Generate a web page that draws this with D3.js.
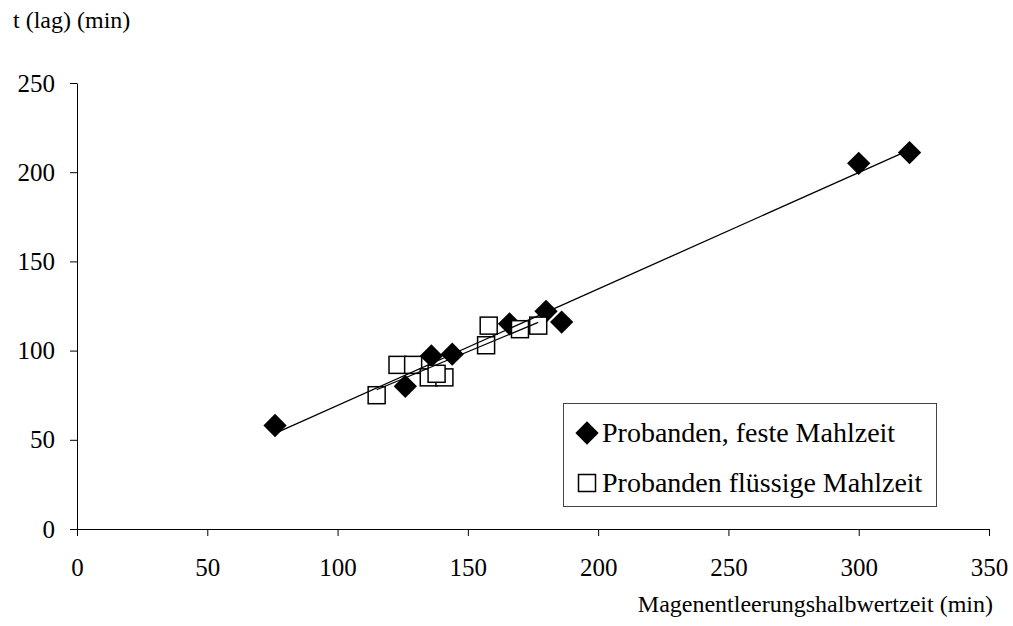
<!DOCTYPE html>
<meta charset="utf-8">
<style>
body { margin: 0; background: #fff; }
svg text { font-family: "Liberation Serif", "Times New Roman", serif; fill: #000; }
.axis text { font-size: 25px; font-family: "Liberation Serif", serif; }
.axis path, .axis line { stroke: #000; stroke-width: 1; }
.title { font-size: 24px; }
.legend text { font-size: 28px; }
.trend { fill: none; stroke: #000; stroke-width: 1.3; }
</style>
<body>
<script src="https://d3js.org/d3.v7.min.js"></script>
<script>
// Probanden, feste Mahlzeit
var festX = [76, 126, 136, 144, 166, 180, 186, 300, 319.5];
var festY = [58, 80, 97, 98, 115, 122, 116, 205, 211];
// Probanden flüssige Mahlzeit
var fluessigX = [115, 123, 129, 135, 141, 138, 157, 158, 170, 177];
var fluessigY = [75, 92, 92, 85, 85, 87, 103, 114, 112, 114];

var xTicks = [0, 50, 100, 150, 200, 250, 300, 350];
var yTicks = [0, 50, 100, 150, 200, 250];
var seriesNames = ["Probanden, feste Mahlzeit", "Probanden flüssige Mahlzeit"];

var svg = d3.select("body").append("svg")
    .attr("width", 1013)
    .attr("height", 626);

var x = d3.scaleLinear().domain([0, 350]).range([77, 989]);
var y = d3.scaleLinear().domain([0, 250]).range([529, 83]);

// axes
svg.append("g")
    .attr("class", "axis")
    .attr("transform", "translate(0,529)")
    .call(d3.axisBottom(x).tickValues(xTicks).tickSize(7).tickSizeOuter(0).tickPadding(22))
    .attr("font-family", null).attr("font-size", null);

svg.append("g")
    .attr("class", "axis")
    .attr("transform", "translate(77,0)")
    .call(d3.axisLeft(y).tickValues(yTicks).tickSize(7).tickSizeOuter(0).tickPadding(15))
    .attr("font-family", null).attr("font-size", null);

// axis titles
svg.append("text").attr("class", "title")
    .attr("x", 13).attr("y", 28)
    .text("t (lag) (min)");
svg.append("text").attr("class", "title")
    .attr("x", 993).attr("y", 612)
    .attr("text-anchor", "end")
    .text("Magenentleerungshalbwertzeit (min)");

function zip(xs, ys) { return xs.map(function(v, i) { return {x: v, y: ys[i]}; }); }
var fest = zip(festX, festY);
var fluessig = zip(fluessigX, fluessigY);

// linear trend line (least squares) from min x to max x
function trend(pts) {
    var mx = d3.mean(pts, function(d) { return d.x; });
    var my = d3.mean(pts, function(d) { return d.y; });
    var sxy = d3.sum(pts, function(d) { return (d.x - mx) * (d.y - my); });
    var sxx = d3.sum(pts, function(d) { return (d.x - mx) * (d.x - mx); });
    var b = sxy / sxx, a = my - b * mx;
    var ext = d3.extent(pts, function(d) { return d.x; });
    return ext.map(function(v) { return {x: v, y: a + b * v}; });
}

var diamond = d3.symbol().type(d3.symbolDiamond2).size(190);
var line = d3.line().x(function(d) { return x(d.x); }).y(function(d) { return y(d.y); });

svg.append("g").selectAll("path")
    .data(fest).enter().append("path")
    .attr("d", diamond)
    .attr("transform", function(d) { return "translate(" + x(d.x) + "," + y(d.y) + ") scale(1.35)"; })
    .attr("fill", "#000");

svg.append("g").selectAll("rect")
    .data(fluessig).enter().append("rect")
    .attr("x", function(d) { return x(d.x) - 8.5; })
    .attr("y", function(d) { return y(d.y) - 8.5; })
    .attr("width", 17).attr("height", 17)
    .attr("fill", "#fff").attr("stroke", "#000").attr("stroke-width", 1.5);

svg.append("path").attr("class", "trend").attr("d", line(trend(fest)));
svg.append("path").attr("class", "trend").attr("d", line(trend(fluessig)));

// legend
var lg = svg.append("g").attr("class", "legend");
lg.append("rect")
    .attr("x", 563.5).attr("y", 403.5).attr("width", 373).attr("height", 103)
    .attr("fill", "#fff").attr("stroke", "#444").attr("stroke-width", 1);
lg.append("path")
    .attr("d", diamond)
    .attr("transform", "translate(587,433) scale(1.35)")
    .attr("fill", "#000");
lg.append("rect")
    .attr("x", 578.5).attr("y", 474.5).attr("width", 17).attr("height", 17)
    .attr("fill", "#fff").attr("stroke", "#000").attr("stroke-width", 1.5);
lg.selectAll(".lt").data(seriesNames).enter().append("text")
    .attr("x", 602)
    .attr("y", function(d, i) { return 442 + i * 50; })
    .text(function(d) { return d; });
</script>
</body>
